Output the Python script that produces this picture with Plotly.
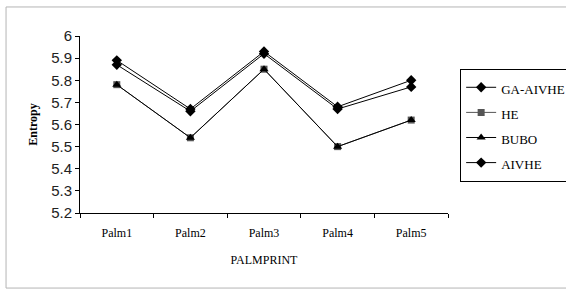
import plotly.graph_objects as go

categories = ["Palm1", "Palm2", "Palm3", "Palm4", "Palm5"]
ga_aivhe = [5.89, 5.67, 5.93, 5.68, 5.80]
he = [5.78, 5.54, 5.85, 5.50, 5.62]
bubo = [5.78, 5.54, 5.85, 5.50, 5.62]
aivhe = [5.87, 5.66, 5.92, 5.67, 5.77]
y_ticks = [5.2, 5.3, 5.4, 5.5, 5.6, 5.7, 5.8, 5.9, 6.0]
y_tick_text = ["5.2", "5.3", "5.4", "5.5", "5.6", "5.7", "5.8", "5.9", "6"]


def lg(name):
    return "<span style='font-size:13px'>" + name + "</span>"


fig = go.Figure()
fig.add_trace(go.Scatter(x=categories, y=ga_aivhe, name=lg("GA-AIVHE"), mode="lines+markers",
                         line=dict(color="black", width=1),
                         marker=dict(symbol="diamond", size=8, color="black")))
fig.add_trace(go.Scatter(x=categories, y=he, name=lg("HE"), mode="lines+markers",
                         line=dict(color="#555555", width=1),
                         marker=dict(symbol="square", size=7, color="#555555")))
fig.add_trace(go.Scatter(x=categories, y=bubo, name=lg("BUBO"), mode="lines+markers",
                         line=dict(color="black", width=1),
                         marker=dict(symbol="triangle-up", size=8, color="black")))
fig.add_trace(go.Scatter(x=categories, y=aivhe, name=lg("AIVHE"), mode="lines+markers",
                         line=dict(color="black", width=1),
                         marker=dict(symbol="diamond", size=8, color="black")))

fig.update_layout(
    width=566, height=290,
    margin=dict(l=80, r=118, t=36, b=77, autoexpand=False),
    paper_bgcolor="white", plot_bgcolor="white",
    showlegend=True,
    legend=dict(x=1.033, y=0.815, xanchor="left", yanchor="top",
                bordercolor="black", borderwidth=1,
                font=dict(family="Liberation Serif", size=17, color="black"),
                tracegroupgap=0, itemwidth=30),
    xaxis=dict(type="category", tickson="boundaries", ticks="outside", ticklen=4,
               tickcolor="black", showline=True, linecolor="black", linewidth=1,
               showgrid=False, range=[-0.5, 4.5], ticklabelstandoff=9,
               tickfont=dict(family="Liberation Serif", size=12, color="black"),
               title=dict(text="PALMPRINT", standoff=16,
                          font=dict(family="Liberation Serif", size=12, color="black"))),
    yaxis=dict(range=[5.2, 6.0], tickvals=y_ticks, ticktext=y_tick_text,
               ticks="outside", ticklen=4, tickcolor="black",
               showline=True, linecolor="black", linewidth=1, showgrid=False,
               zeroline=False,
               tickfont=dict(family="Liberation Sans", size=15, color="#222222")),
    annotations=[dict(text="<b>Entropy</b>", xref="paper", yref="paper",
                      x=-0.13, y=0.5, xanchor="center", yanchor="middle",
                      textangle=-90, showarrow=False,
                      font=dict(family="Liberation Serif", size=12, color="black"))],
    shapes=[dict(type="rect", xref="paper", yref="paper",
                 x0=-0.201, x1=1.35, y0=-0.424, y1=1.164,
                 line=dict(color="#b4b4b4", width=1))],
)

fig.write_html("out.html", config={"displayModeBar": False},
               post_script="document.body.style.margin='0';")
